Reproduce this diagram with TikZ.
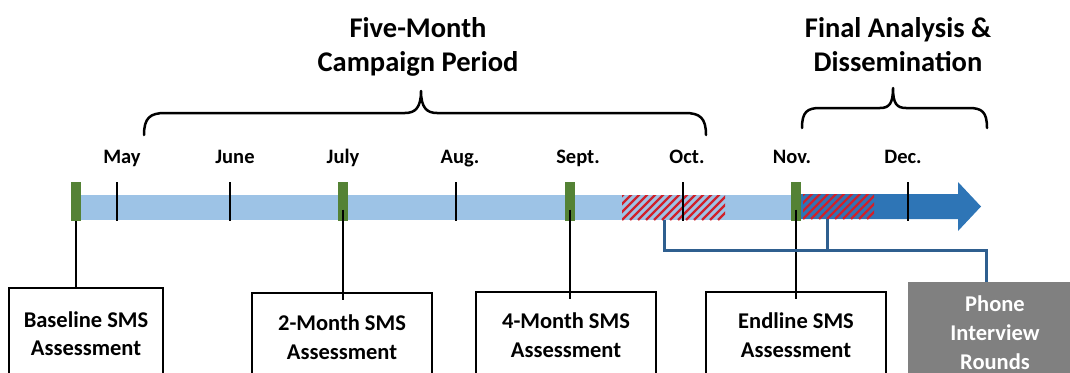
\documentclass[tikz,border=0pt]{standalone}
\usepackage{fontspec}
\setmainfont{Carlito}
\definecolor{barlight}{HTML}{9DC3E6}
\definecolor{bardark}{HTML}{2E75B6}
\definecolor{markgreen}{HTML}{548235}
\definecolor{hatchred}{HTML}{D0202A}
\definecolor{linkblue}{HTML}{2F5F8F}
\definecolor{phonegray}{HTML}{808080}
\begin{document}
\begin{tikzpicture}[x=1pt,y=-1pt,
  greenmark/.style={rectangle, fill=markgreen, draw=none, minimum width=10pt, minimum height=39pt, inner sep=0pt},
  tickmark/.style={line width=2.5pt, black},
  month/.style={font=\fontsize{20.5}{22}\selectfont\bfseries, anchor=base, inner sep=0pt},
  title/.style={font=\fontsize{28.5}{34}\selectfont\bfseries, align=center, anchor=north, inner sep=0pt},
  brace/.style={line width=2.5pt, black, line join=round, line cap=round},
  smsbox/.style={draw=black, line width=2pt, fill=white, font=\fontsize{22.5}{28.5}\selectfont\bfseries, align=center, anchor=north, inner sep=0pt},
  phonebox/.style={fill=phonegray, draw=none, text=white, font=\fontsize{22.5}{29}\selectfont\bfseries, align=center, anchor=north, inner sep=0pt},
  hatchbox/.style={rectangle, draw=none, inner sep=0pt, minimum height=25pt,
    path picture={\foreach \k in {-32,-24,...,110} {\draw[hatchred, line width=2.2pt] ([xshift=\k pt]path picture bounding box.south west) -- ++(28,-28);}}},
  link/.style={line width=2pt, black},
  phoneline/.style={line width=3pt, linkblue}
]
\useasboundingbox (0,0) rectangle (1070,372);
\clip (0,0) rectangle (1070,372);

% timeline bar
\fill[barlight] (76,195) rectangle (798,220);
\fill[bardark] (798,194) -- (958,194) -- (958,182) -- (981,206.5) -- (958,231) -- (958,219) -- (798,219) -- cycle;

% hatched periods
\node[hatchbox, minimum width=103pt] (h1) at (673.5,207.5) {};
\node[hatchbox, minimum width=71pt] (h2) at (838.5,206.5) {};

% month ticks
\foreach \x in {117,230,456,683,908} \draw[tickmark] (\x,182) -- (\x,221);

% assessment markers
\node[greenmark] (g0) at (76,201.5) {};
\node[greenmark] (g1) at (343,201.5) {};
\node[greenmark] (g2) at (569.5,201.5) {};
\node[greenmark] (g3) at (795.5,201.5) {};

% month labels
\node[month] (may) at (122,163) {May};
\node[month] (jun) at (235,163) {June};
\node[month] (jul) at (343,163) {July};
\node[month] (aug) at (460,163) {Aug.};
\node[month] (sep) at (578,163) {Sept.};
\node[month] (oct) at (687,163) {Oct.};
\node[month] (nov) at (792,163) {Nov.};
\node[month] (dec) at (903,163) {Dec.};

% braces
\draw[brace] (144,135) .. controls (144,118) and (150,113) .. (165,113) -- (405,113)
  .. controls (415,113) and (421,108) .. (421,91)
  .. controls (421,108) and (427,113) .. (437,113) -- (685,113)
  .. controls (700,113) and (706,118) .. (706,135);
\draw[brace] (802,128) .. controls (802,112) and (807,108) .. (820,108) -- (880,108)
  .. controls (889,108) and (893,104) .. (893,88)
  .. controls (893,104) and (897,108) .. (906,108) -- (969,108)
  .. controls (982,108) and (987,112) .. (987,128);

% titles
\node[title] (campaign) at (418,17) {Five-Month\\Campaign Period};
\node[title] (final) at (898,17) {Final Analysis \&\\Dissemination};

% boxes
\node[smsbox, minimum width=154pt, minimum height=91pt] (base) at (86,287) {Baseline SMS\\Assessment};
\node[smsbox, minimum width=180pt, minimum height=88pt] (two) at (342,292) {2-Month SMS\\Assessment};
\node[smsbox, minimum width=180pt, minimum height=86pt] (four) at (566,291) {4-Month SMS\\Assessment};
\node[smsbox, minimum width=180pt, minimum height=86pt] (end) at (796,291) {Endline SMS\\Assessment};
\node[phonebox, minimum width=174pt, minimum height=100pt] (phone) at (995,282) {Phone\\Interview\\Rounds};

% connectors
\draw[link] (g0.south) -- (g0.south |- base.north);
\draw[link] ([yshift=-8pt]g1.center) -- ([yshift=-8pt]g1.center |- two.north);
\draw[link] ([yshift=-8pt]g2.center) -- ([yshift=-8pt]g2.center |- four.north);
\draw[link] ([yshift=-8pt]g3.center) -- ([yshift=-8pt]g3.center |- end.north);

\draw[phoneline] ([xshift=-9.5pt]h1.south) -- ++(0,30) -| ([xshift=-9pt]phone.north);
\draw[phoneline] ([xshift=-11.5pt]h2.south) -- ++(0,31);
\end{tikzpicture}
\end{document}
